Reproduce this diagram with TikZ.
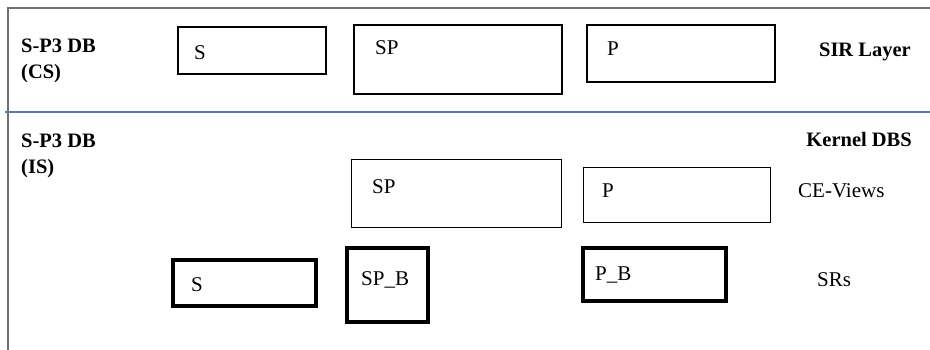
\documentclass[tikz,border=0pt]{standalone}
\usepackage{fontspec}
\setmainfont{Liberation Serif}
\definecolor{framegray}{RGB}{112,112,112}
\definecolor{layerblue}{RGB}{79,126,190}
\begin{document}
\begin{tikzpicture}[x=1pt,y=-1pt,
  txt/.style={font=\fontsize{21}{24}\selectfont, inner sep=0pt},
  bold/.style={font=\fontsize{20.5}{24}\selectfont\bfseries, inner sep=0pt},
  sirbox/.style={draw=black, line width=2.2pt},
  viewbox/.style={draw=black, line width=1pt},
  srbox/.style={draw=black, line width=3.4pt}]
\useasboundingbox (0,0) rectangle (930,350);

% outer frame (top and left edges) and layer separator
\coordinate (ftl) at (8,8);
\coordinate (ftr) at (930,8);
\coordinate (fbl) at (8,350);
\draw[framegray, line width=1.4pt] (fbl) -- (ftl) -- (ftr);
\coordinate (sepL) at (5,112);
\coordinate (sepR) at (930,112);
\draw[layerblue, line width=2pt] (sepL) -- (sepR);

% SIR layer
\node[bold, anchor=base west] (cs) at (21,53) {S-P3 DB};
\node[bold, anchor=base west] (csb) at (21,79) {(CS)};
\draw[sirbox] (178,27) rectangle (326,74);
\node[txt, anchor=base west] (s1) at (194,60) {S};
\draw[sirbox] (354,25) rectangle (562,94);
\node[txt, anchor=base west] (sp1) at (375,55) {SP};
\draw[sirbox] (587,25) rectangle (775,82);
\node[txt, anchor=base west] (p1) at (607,56) {P};
\node[bold, anchor=base east] (sir) at (911,57) {SIR Layer};

% kernel layer
\node[bold, anchor=base west] (is) at (21,148) {S-P3 DB};
\node[bold, anchor=base west] (isb) at (21,174) {(IS)};
\node[bold, anchor=base east] (kdbs) at (912,147) {Kernel DBS};

% CE-Views
\draw[viewbox] (351,160) rectangle (561,228);
\node[txt, anchor=base west] (sp2) at (372,194) {SP};
\draw[viewbox] (583,168) rectangle (770,223);
\node[txt, anchor=base west] (p2) at (602,198) {P};
\node[txt, anchor=base west] (cev) at (798,198) {CE-Views};

% SRs
\draw[srbox] (173,260) rectangle (316,306);
\node[txt, anchor=base west] (s2) at (191,291) {S};
\draw[srbox] (347,248) rectangle (428,322);
\node[txt, anchor=base west] (spb) at (361,285) {SP\_B};
\draw[srbox] (583,248) rectangle (726,301);
\node[txt, anchor=base west] (pb) at (595,280) {P\_B};
\node[txt, anchor=base west] (srs) at (817,286) {SRs};
\end{tikzpicture}
\end{document}
